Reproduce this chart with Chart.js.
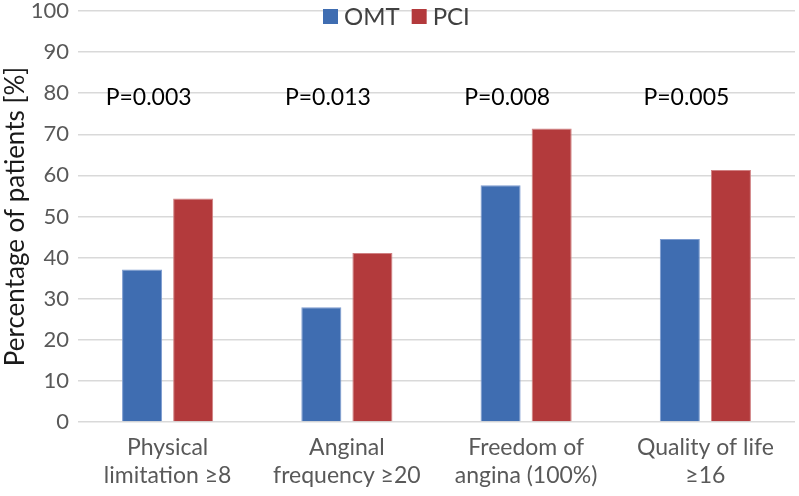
<!DOCTYPE html>
<html>
<head>
<meta charset="utf-8">
<script src="https://cdn.jsdelivr.net/npm/chart.js@4"></script>
<style>
  html, body { margin: 0; padding: 0; background: #fff; }
  #wrap { width: 799px; height: 496px; }
</style>
</head>
<body>
<div id="wrap"><canvas id="grafico"></canvas></div>
<script>
// Datos
const categorias = [
    ['Physical', 'limitation \u22658'],
    ['Anginal', 'frequency \u226520'],
    ['Freedom of', 'angina (100%)'],
    ['Quality of life', '\u226516']
];
const omt = [37.1, 27.9, 57.6, 44.5];
const pci = [54.4, 41.1, 71.4, 61.3];
const pValores = ['P=0.003', 'P=0.013', 'P=0.008', 'P=0.005'];
const pAltura = 80;

const fuente = 'Lato, "Open Sans", sans-serif';

// Leyenda dibujada encima del área del gráfico
const leyendaPlugin = {
    id: 'leyendaArriba',
    afterDraw(chart) {
        const ctx = chart.ctx;
        ctx.save();
        ctx.font = '24px ' + fuente;
        ctx.textBaseline = 'middle';
        ctx.textAlign = 'left';
        let x = 323;
        const y = 16;
        chart.data.datasets.forEach(ds => {
            ctx.fillStyle = ds.backgroundColor;
            ctx.fillRect(x, y - 7, 15, 15);
            ctx.fillStyle = '#404040';
            ctx.fillText(ds.label, x + 21, y + 1);
            x += 21 + ctx.measureText(ds.label).width + 12;
        });
        ctx.restore();
    }
};

// Valores P sobre cada grupo
const pPlugin = {
    id: 'valoresP',
    afterDatasetsDraw(chart) {
        const ctx = chart.ctx;
        const xs = chart.scales.x;
        const ys = chart.scales.y;
        ctx.save();
        ctx.font = '23px ' + fuente;
        ctx.fillStyle = '#000';
        ctx.textAlign = 'center';
        ctx.textBaseline = 'middle';
        pValores.forEach((p, i) => {
            ctx.fillText(p, xs.getPixelForValue(i) - 19, ys.getPixelForValue(pAltura) + 4);
        });
        ctx.restore();
    }
};

const config = {
    type: 'bar',
    data: {
        labels: categorias,
        datasets: [{
            label: 'OMT',
            data: omt,
            backgroundColor: '#3F6DB1',
            borderColor: '#7C9BCF',
            borderWidth: 1,
            categoryPercentage: 0.57,
            barPercentage: 0.784
        }, {
            label: 'PCI',
            data: pci,
            backgroundColor: '#B33A3C',
            borderColor: '#D08082',
            borderWidth: 1,
            categoryPercentage: 0.57,
            barPercentage: 0.784
        }]
    },
    options: {
        responsive: true,
        maintainAspectRatio: false,
        animation: false,
        layout: { padding: { top: 11, right: 4, left: 0, bottom: 0 } },
        plugins: {
            legend: { display: false },
            tooltip: { enabled: false }
        },
        scales: {
            x: {
                grid: { display: false },
                border: { display: false },
                ticks: {
                    color: '#595959',
                    font: { family: fuente, size: 23, lineHeight: 1.2 },
                    maxRotation: 0,
                    padding: 4
                },
                afterFit: s => { s.height = 74; s.paddingLeft = 0; s.paddingRight = 0; }
            },
            y: {
                min: 0,
                max: 100,
                ticks: {
                    stepSize: 10,
                    color: '#595959',
                    font: { family: fuente, size: 22 },
                    padding: 9
                },
                grid: { color: '#D9D9D9', lineWidth: 1.5, drawTicks: false },
                border: { display: false },
                title: {
                    display: true,
                    text: 'Percentage of patients [%]',
                    color: '#1a1a1a',
                    font: { family: fuente, size: 26 },
                    padding: 0
                },
                afterFit: s => { s.width = 78; s.paddingTop = 0; s.paddingBottom = 0; }
            }
        }
    },
    plugins: [leyendaPlugin, pPlugin]
};

const ctx = document.getElementById('grafico').getContext('2d');
new Chart(ctx, config);
</script>
</body>
</html>
